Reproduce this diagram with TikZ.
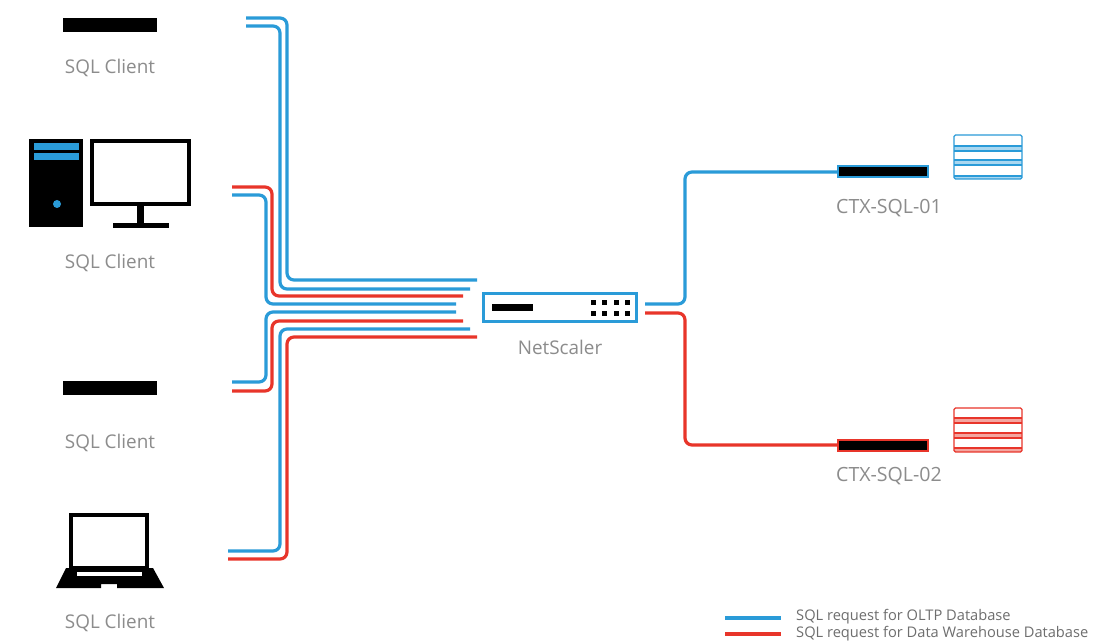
\documentclass[tikz,border=0pt]{standalone}
\usepackage{fontspec}
\setmainfont{Open Sans}
\definecolor{cblue}{HTML}{2A9BD8}
\definecolor{cred}{HTML}{E8352A}
\definecolor{lblue}{HTML}{A9D7F0}
\definecolor{lred}{HTML}{F3A6A0}
\definecolor{ctext}{HTML}{8C8C8C}
\definecolor{ltext}{HTML}{6E6E6E}
\tikzset{
  bl/.style={draw=cblue,line width=3.2pt,rounded corners=7pt},
  rl/.style={draw=cred,line width=3.2pt,rounded corners=7pt},
  lbl/.style={text=ctext,font=\fontsize{18.9}{22}\selectfont,inner sep=0pt,anchor=center},
  lblb/.style={text=ctext,font=\fontsize{19.6}{22}\selectfont,inner sep=0pt,anchor=center},
  legtext/.style={text=ltext,font=\fontsize{14.65}{17}\selectfont,inner sep=0pt,anchor=west},
  blackbar/.style={fill=black,draw=none,inner sep=0pt,minimum width=94pt,minimum height=14pt},
  server/.style={fill=black,line width=2pt,minimum width=90pt,minimum height=11pt,inner sep=0pt},
}
\begin{document}
\begin{tikzpicture}[x=1pt,y=-1pt]
\useasboundingbox (0,0) rectangle (1113,644);
\fill[white] (0,0) rectangle (1113,644);

% left free ends and trunk positions
\coordinate (a1) at (246,18);  \coordinate (t1) at (287,100); \coordinate (e1) at (477,280);
\coordinate (a2) at (246,26);  \coordinate (t2) at (280,100); \coordinate (e2) at (470,289);
\coordinate (a3) at (232,187); \coordinate (t3) at (272,240); \coordinate (e3) at (463,296);
\coordinate (a4) at (232,195); \coordinate (t4) at (266,240); \coordinate (e4) at (456,304);
\coordinate (a5) at (232,382); \coordinate (t5) at (266,350); \coordinate (e5) at (456,312);
\coordinate (a6) at (232,391); \coordinate (t6) at (272,350); \coordinate (e6) at (463,321);
\coordinate (a7) at (228,551); \coordinate (t7) at (280,450); \coordinate (e7) at (470,329);
\coordinate (a8) at (228,559); \coordinate (t8) at (287,450); \coordinate (e8) at (477,337);

\draw[bl] (a1) -| (t1) |- (e1);
\draw[bl] (a2) -| (t2) |- (e2);
\draw[rl] (a3) -| (t3) |- (e3);
\draw[bl] (a4) -| (t4) |- (e4);
\draw[bl] (a5) -| (t5) |- (e5);
\draw[rl] (a6) -| (t6) |- (e6);
\draw[bl] (a7) -| (t7) |- (e7);
\draw[rl] (a8) -| (t8) |- (e8);

% clients
\node[blackbar] (c1bar) at (110,25.5) {};
\node[lbl] (c1) at (110,68) {SQL Client};

% desktop
\fill[black] (29,139) rectangle (83,227);
\fill[cblue] (34,143) rectangle (79,150);
\fill[cblue] (34,153) rectangle (79,160);
\fill[cblue] (57,204) circle (4);
\draw[black,line width=4pt] (92,141) rectangle (189,204);
\fill[black] (137,206) rectangle (144,224);
\fill[black] (113,223) rectangle (169,228);
\node[lbl] (c2) at (110,263) {SQL Client};

\node[blackbar] (c3bar) at (110,388) {};
\node[lbl] (c3) at (110,443) {SQL Client};

% laptop
\draw[black,line width=4pt] (71,515) rectangle (147,568);
\fill[black] (66,568) -- (153,568) -- (164,588) -- (117,588) -- (117,584) -- (101,584) -- (101,588) -- (56,588) -- cycle;
\fill[white] (77,572) rectangle (142,576);
\node[lbl] (c4) at (110,623) {SQL Client};

% NetScaler
\node[draw=cblue,line width=3pt,fill=white,minimum width=153pt,minimum height=28pt,inner sep=0pt] (ns) at (560,307.5) {};
\fill[black] (492,304) rectangle (533,311);
\foreach \x in {593,604,616,627}{
  \fill[black] (\x-2.5,299.5) rectangle (\x+2.5,304.5);
  \fill[black] (\x-2.5,310.5) rectangle (\x+2.5,315.5);
}
\node[lbl] (nsl) at (560,347) {NetScaler};

% servers
\node[server,draw=cblue] (s1) at (883,172) {};
\node[server,draw=cred] (s2) at (883,445) {};
\node[lblb] (s1l) at (889,208) {CTX-SQL-01};
\node[lblb] (s2l) at (889,476) {CTX-SQL-02};

% right connectors
\coordinate (nb) at (645,304);
\coordinate (nr) at (645,313);
\coordinate (vb) at (685,240);
\coordinate (vr) at (685,380);
\draw[bl] (nb) -| (vb) |- (s1.west);
\draw[rl] (nr) -| (vr) |- (s2.west);

% database stacks
\fill[lblue] (954,146) rectangle (1022,151);
\fill[lblue] (954,160) rectangle (1022,165);
\fill[lblue] (954,176) rectangle (1022,179);
\draw[cblue,line width=1.3pt,rounded corners=1.5pt] (954,135) rectangle (1022,179);
\foreach \y in {146,151,160,165,176} \draw[cblue,line width=1.1pt] (954,\y) -- (1022,\y);

\fill[lred] (954,418) rectangle (1022,423);
\fill[lred] (954,433) rectangle (1022,438);
\fill[lred] (954,448) rectangle (1022,452);
\draw[cred,line width=1.3pt,rounded corners=1.5pt] (954,408) rectangle (1022,452);
\foreach \y in {418,423,433,438,448} \draw[cred,line width=1.1pt] (954,\y) -- (1022,\y);

% legend
\coordinate (l1a) at (725,618); \coordinate (l1b) at (781,618);
\coordinate (l2a) at (725,634); \coordinate (l2b) at (781,634);
\draw[bl] (l1a) -- (l1b);
\draw[rl] (l2a) -- (l2b);
\node[legtext] (l1) at (796,616.5) {SQL request for OLTP Database};
\node[legtext] (l2) at (796,634) {SQL request for Data Warehouse Database};
\end{tikzpicture}
\end{document}
